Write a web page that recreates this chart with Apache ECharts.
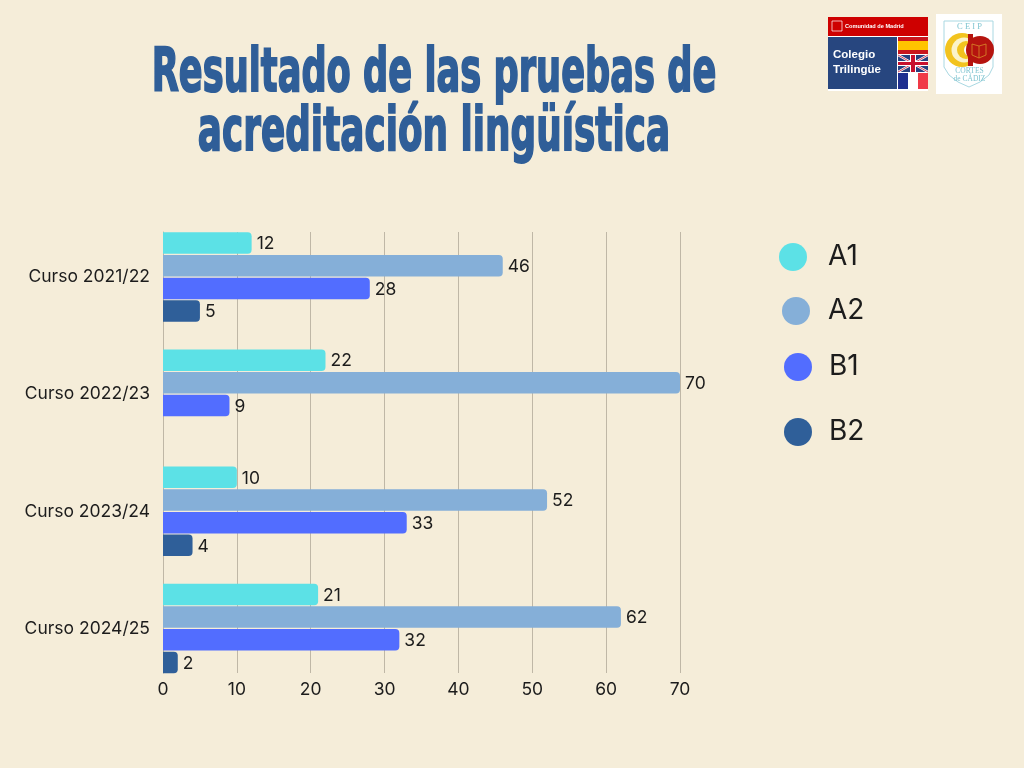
<!DOCTYPE html>
<html>
<head>
<meta charset="utf-8">
<style>html,body{margin:0;padding:0;background:#F5EDD9}#c{width:1024px;height:768px}</style>
<script src="https://cdn.jsdelivr.net/npm/echarts@6/dist/echarts.min.js"></script>
</head>
<body>
<div id="c"></div>
<script>
const categories = ['Curso 2021/22','Curso 2022/23','Curso 2023/24','Curso 2024/25'];
const seriesNames = ['A1','A2','B1','B2'];
const A1 = [12,22,10,21];
const A2 = [46,70,52,62];
const B1 = [28,9,33,32];
const B2 = [5,null,4,2];
const titleLines = ['Resultado de las pruebas de','acreditación lingüística'];
const colors = ['#5CE1E6','#85AFD8','#526DFF','#2F5F99'];
const values = [A1,A2,B1,B2];
const legendPos = [[779,243],[782,297],[784,353],[784,418]];
const legendPad = [[6,0,0,16],[0,0,2,13],[1,0,0,12],[4,0,0,12]];
const FONT = 'Inter, "Open Sans", sans-serif';
const INK = '#1c1c1c';
const chart = echarts.init(document.getElementById('c'));
const bg = '#F5EDD9', blue = '#2F5E98';

const titleGfx = titleLines.map((t,i)=>({
  type:'text', x:434, y:[75,134][i], scaleX:[0.587,0.597][i], z:10,
  style:{text:t, font:'bold 60px "DejaVu Sans"', fill:blue, stroke:blue, lineWidth:2,
         textAlign:'center', textVerticalAlign:'middle'}
}));
const r=(x,y,w,h,fill,extra)=>Object.assign({type:'rect',shape:{x,y,width:w,height:h},style:{fill}},extra||{});
const ln=(x1,y1,x2,y2,stroke,w)=>({type:'line',shape:{x1,y1,x2,y2},style:{stroke,lineWidth:w}});
const tx=(text,x,y,font,fill,al)=>({type:'text',x,y,style:{text,font,fill,textAlign:al||'left',textVerticalAlign:'middle'}});
const logos = [
  r(828,17,100,74,'#ffffff'),
  r(828,17,100,19,'#CE0000'),
  r(832,21,10,10,'#CE0000',{style:{fill:'#CE0000',stroke:'#fff',lineWidth:.7}}),
  tx('Comunidad de Madrid',845,26.5,'bold 5.6px "Liberation Sans"','#fff'),
  r(828,37,69,52,'#27467F'),
  tx('Colegio',833,55,'bold 11.5px "Liberation Sans"','#fff'),
  tx('Trilingüe',833,70,'bold 11.5px "Liberation Sans"','#fff'),
  r(898,37,30,17,'#C9161D'), r(898,41,30,9,'#FFC400'),
  r(898,55,30,17,'#27407F'),
  ln(898,55,928,72,'#fff',2.4), ln(928,55,898,72,'#fff',2.4),
  ln(898,55,928,72,'#C8102E',.8), ln(928,55,898,72,'#C8102E',.8),
  r(910,55,6,17,'#fff'), r(898,61,30,5,'#fff'),
  r(911,55,4,17,'#C8102E'), r(898,62,30,3,'#C8102E'),
  r(898,73,10,16,'#1F2F8F'), r(908,73,10,16,'#fff'), r(918,73,10,16,'#F03A47'),
  r(936,14,66,80,'#ffffff'),
  {type:'polygon',shape:{points:[[944,21],[993,21],[993,67],[989,75],[980,82],[969,87],[958,82],[949,75],[944,67]]},style:{fill:'none',stroke:'#A9D8E2',lineWidth:1}},
  tx('C E I P',969.5,27,'8.5px "Liberation Serif"','#7FC4D0','center'),
  {type:'circle',shape:{cx:962,cy:50,r:17},style:{fill:'#F2C31E'}},
  {type:'circle',shape:{cx:964,cy:50,r:12.5},style:{fill:'#FBF3C8'}},
  {type:'circle',shape:{cx:966,cy:50,r:9},style:{fill:'#F2C31E'}},
  {type:'circle',shape:{cx:970,cy:50,r:6},style:{fill:'#ffffff'}},
  {type:'circle',shape:{cx:980,cy:50,r:14},style:{fill:'#B5140F'}},
  {type:'rect',shape:{x:968,y:34,width:5,height:32},style:{fill:'#B5140F'}},
  {type:'polygon',shape:{points:[[972,44],[979,46],[986,44],[986,55],[979,58],[972,55]]},style:{fill:'none',stroke:'#D98A2A',lineWidth:.8}},
  ln(979,46,979,58,'#D98A2A',.8),
  tx('CORTES',969.5,71,'7.5px "Liberation Serif"','#7FC4D0','center'),
  tx('de CÁDIZ',969.5,79,'7.5px "Liberation Serif"','#7FC4D0','center')
];

chart.setOption({
  backgroundColor:bg,
  animation:false,
  textStyle:{fontFamily:FONT},
  grid:[
    {left:163,right:344,top:232,bottom:95},
    {left:163,right:344,top:218.5,bottom:81}
  ],
  xAxis:[
    {gridIndex:0,type:'value',min:0,max:70,interval:10,
     axisLine:{show:false},axisTick:{show:false},
     splitLine:{show:true,lineStyle:{color:'#BFB7A6',width:1}},
     axisLabel:{color:INK,fontSize:17.5,fontFamily:FONT,margin:8}},
    {gridIndex:1,type:'value',min:0,max:70,interval:10,show:false}
  ],
  yAxis:[
    {gridIndex:0,type:'value',min:0,max:1,show:true,axisLabel:{show:false},axisTick:{show:false},splitLine:{show:false},
     axisLine:{show:true,lineStyle:{color:'#BFB7A6',width:1}}},
    {gridIndex:1,type:'category',inverse:true,data:categories,
     axisLine:{show:false},axisTick:{show:false},
     axisLabel:{color:INK,fontSize:17.5,fontFamily:FONT,margin:13,padding:[4,0,0,0]}}
  ],
  legend:seriesNames.map((n,i)=>({
    data:[n],left:legendPos[i][0],top:legendPos[i][1],icon:'circle',itemWidth:28,itemHeight:28,itemGap:0,
    selectedMode:false,textStyle:{color:INK,fontSize:28,fontFamily:FONT,padding:legendPad[i]},padding:0
  })),
  series:seriesNames.map((n,i)=>({
    name:n,type:'bar',xAxisIndex:1,yAxisIndex:1,data:values[i],
    barWidth:21.5,barGap:'5.6%',
    itemStyle:{color:colors[i],borderRadius:[0,4,4,0]},
    label:{show:true,position:'right',distance:5,offset:[0,1],color:INK,fontSize:17.5,fontFamily:FONT}
  })),
  graphic:{elements:[...titleGfx,...logos]}
});
</script>
</body>
</html>
